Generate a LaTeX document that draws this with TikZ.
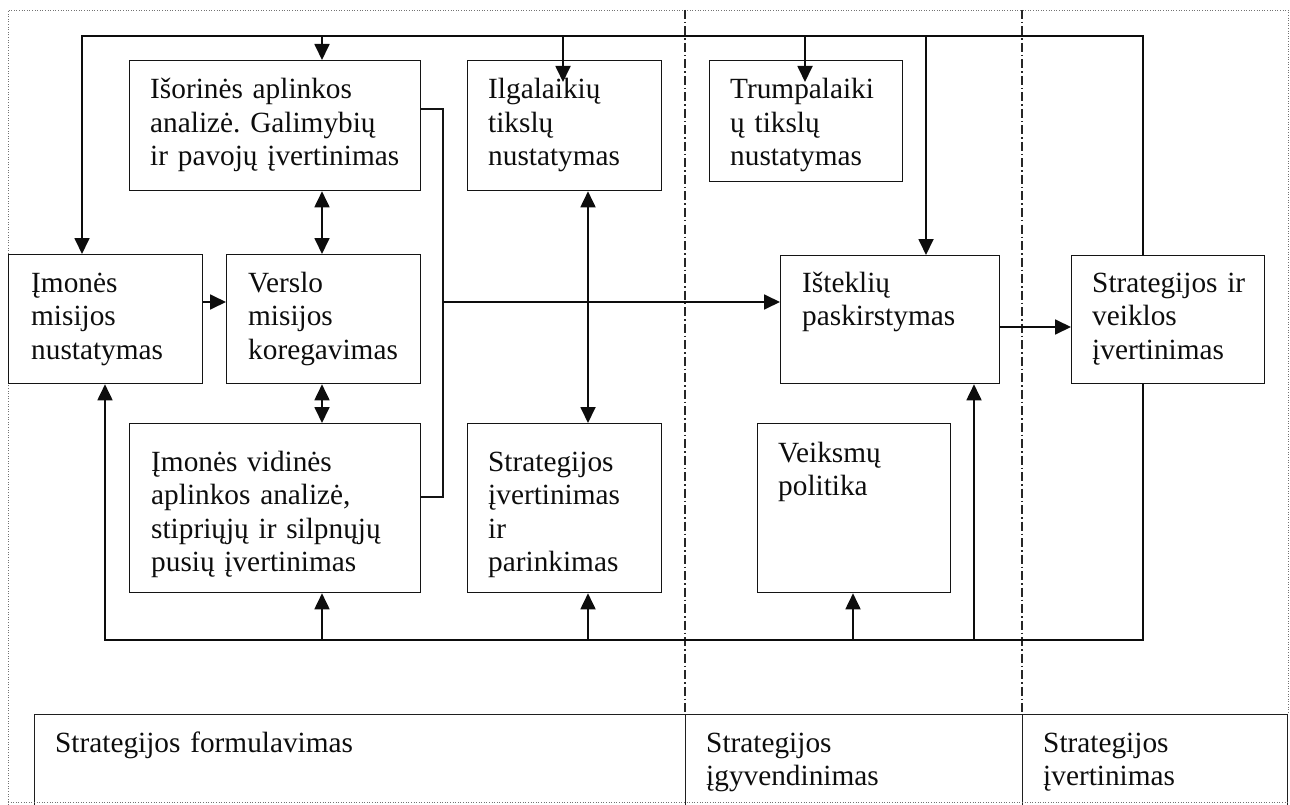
\documentclass[tikz,border=0pt]{standalone}
\usepackage{fontspec}
\setmainfont{Liberation Serif}
\usetikzlibrary{arrows.meta,calc}
\frenchspacing
\begin{document}
\begin{tikzpicture}[x=1pt,y=-1pt,
  stage/.style={draw=black!92, line width=1.3pt, rectangle, inner sep=0pt, anchor=north west},
  phasebox/.style={draw=black!88, line width=1.2pt, rectangle, inner sep=0pt, anchor=north west},
  lbl/.style={anchor=base west, inner sep=0pt, text width=330pt, align=left,
              font=\fontsize{29.3}{33.5}\selectfont, text=black!95},
  tip/.style={-{Triangle[length=16pt,width=15pt]}},
  flow/.style={line width=1.8pt, draw=black!95, tip},
  twoway/.style={line width=1.8pt, draw=black!95,
                 {Triangle[length=16pt,width=15pt]}-{Triangle[length=16pt,width=15pt]}},
  wire/.style={line width=1.8pt, draw=black!95},
  bracket/.style={line width=1.3pt, draw=black!92},
  phaseline/.style={line width=1.2pt, draw=black!85, dash pattern=on 9pt off 3pt on 1.5pt off 3pt},
  frame/.style={line width=0.9pt, draw=black!55, dash pattern=on 1pt off 1.6pt}]

\useasboundingbox (0,0) rectangle (1290,805);

% ---- phase boxes along the bottom (open below the page edge)
\node[phasebox, minimum width=651pt, minimum height=110pt] (form) at (34,714) {};
\node[phasebox, minimum width=337pt, minimum height=110pt] (igyv) at (685,714) {};
\node[phasebox, minimum width=265pt, minimum height=110pt] (ivert) at (1022,714) {};
\node[lbl] (formT) at ($(form.north west)+(21,38)$) {Strategijos formulavimas};
\node[lbl] (igyvT) at ($(igyv.north west)+(21,38)$) {Strategijos\\įgyvendinimas};
\node[lbl] (ivertT) at ($(ivert.north west)+(21,38)$) {Strategijos\\įvertinimas};

% ---- outer dotted frame
\draw[frame] (8,805) -- (8,10) -- (1288,10) -- (1288,714);
\draw[frame] (8,802) -- (1288,802);

% ---- process boxes
\node[stage, minimum width=291pt, minimum height=130pt] (isor)  at (129,60)  {};
\node[stage, minimum width=194pt, minimum height=130pt] (ilg)   at (467,60)  {};
\node[stage, minimum width=193pt, minimum height=121pt] (trump) at (709,60)  {};
\node[stage, minimum width=194pt, minimum height=129pt] (mis)   at (8,254)   {};
\node[stage, minimum width=194pt, minimum height=129pt] (vers)  at (226,254) {};
\node[stage, minimum width=219pt, minimum height=128pt] (ist)   at (780,255) {};
\node[stage, minimum width=193pt, minimum height=128pt] (sv)    at (1071,255) {};
\node[stage, minimum width=291pt, minimum height=169pt] (vid)   at (129,423) {};
\node[stage, minimum width=194pt, minimum height=169pt] (sip)   at (467,423) {};
\node[stage, minimum width=193pt, minimum height=169pt] (veik)  at (757,423) {};

% ---- box texts
\node[lbl] (isorT)  at ($(isor.north west)+(21,39)$)  {Išorinės aplinkos\\analizė. Galimybių\\ir pavojų įvertinimas};
\node[lbl] (ilgT)   at ($(ilg.north west)+(21,39)$)   {Ilgalaikių\\tikslų\\nustatymas};
\node[lbl] (trumpT) at ($(trump.north west)+(21,39)$) {Trumpalaiki\\ų tikslų\\nustatymas};
\node[lbl] (misT)   at ($(mis.north west)+(23,38)$)   {Įmonės\\misijos\\nustatymas};
\node[lbl] (versT)  at ($(vers.north west)+(22,38)$)  {Verslo\\misijos\\koregavimas};
\node[lbl] (istT)   at ($(ist.north west)+(22,37)$)   {Išteklių\\paskirstymas};
\node[lbl] (svT)    at ($(sv.north west)+(21,37)$)    {Strategijos ir\\veiklos\\įvertinimas};
\node[lbl] (vidT)   at ($(vid.north west)+(22,48)$)   {Įmonės vidinės\\aplinkos analizė,\\stipriųjų ir silpnųjų\\pusių įvertinimas};
\node[lbl] (sipT)   at ($(sip.north west)+(21,48)$)   {Strategijos\\įvertinimas\\ir\\parinkimas};
\node[lbl] (veikT)  at ($(veik.north west)+(21,39)$)  {Veiksmų\\politika};

% ---- phase separators
\coordinate (p1) at (685,10);
\coordinate (p2) at (1022,10);
\draw[phaseline] (p1) -- (p1 |- form.north);
\draw[phaseline] (p2) -- (p2 |- ivert.north);

% ---- routing columns and rows
\coordinate (xa) at (322,0);
\coordinate (xb) at (563,0);
\coordinate (xc) at (805,0);
\coordinate (xd) at (926,0);
\coordinate (xe) at (588,0);
\coordinate (xf) at (853,0);
\coordinate (xg) at (974,0);
\coordinate (topL) at (82,36);
\coordinate (topR) at (1143,36);
\coordinate (botL) at (105,640);
\coordinate (botR) at (1143,640);
\coordinate (r1) at (0,302);
\coordinate (r2) at (0,327);
\coordinate (brT) at (443,109);
\coordinate (brM) at (443,302);
\coordinate (brB) at (443,497);

% ---- feedback loop over the top
\draw[flow] (sv.north -| topR) -- (topR) -- (topL) -- (mis.north -| topL);
\draw[flow] (xa |- topL) -- (xa |- isor.north);
\draw[flow] (xb |- topL) -- ($(xb |- ilg.north)+(0,22)$);
\draw[flow] (xc |- topL) -- ($(xc |- trump.north)+(0,22)$);
\draw[flow] (xd |- topL) -- (xd |- ist.north);

% ---- feedback loop along the bottom
\draw[flow] (sv.south -| botR) -- (botR) -- (botL) -- (botL |- mis.south);
\draw[flow] (xa |- botL) -- (xa |- vid.south);
\draw[flow] (xe |- botL) -- (xe |- sip.south);
\draw[flow] (xf |- botL) -- (xf |- veik.south);
\draw[flow] (xg |- botL) -- (xg |- ist.south);

% ---- two-way links
\draw[twoway] (xa |- isor.south) -- (xa |- vers.north);
\draw[twoway] (xa |- vers.south) -- (xa |- vid.north);
\draw[twoway] (xe |- ilg.south) -- (xe |- sip.north);

% ---- analysis bracket feeding resource allocation
\draw[bracket] (isor.east |- brT) -- (brT) -- (brB) -- (vid.east |- brB);
\draw[flow] (brM) -- (ist.west |- brM);

% ---- forward links
\draw[flow] (mis.east |- r1) -- (vers.west |- r1);
\draw[flow] (ist.east |- r2) -- (sv.west |- r2);

\end{tikzpicture}
\end{document}
